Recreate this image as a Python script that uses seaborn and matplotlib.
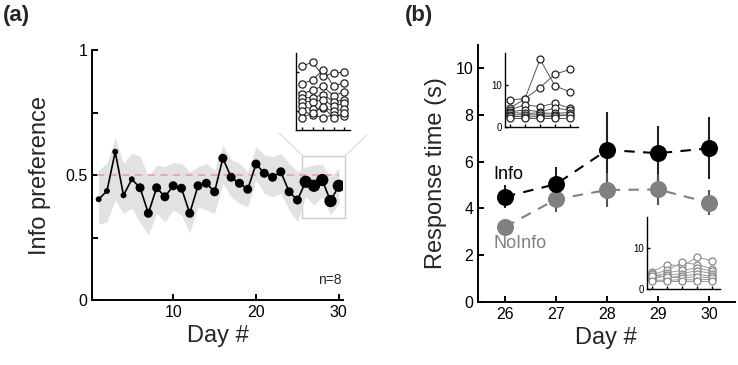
import matplotlib
matplotlib.use('Agg')
import matplotlib.pyplot as plt
import seaborn as sns
from matplotlib.lines import Line2D
from matplotlib.patches import Rectangle

# ---- panel (a): daily info preference ----
days_a = list(range(1, 31))
pref_mean = [0.403, 0.436, 0.593, 0.419, 0.483, 0.449, 0.347, 0.449, 0.413, 0.457,
             0.447, 0.347, 0.457, 0.467, 0.433, 0.567, 0.491, 0.467, 0.443, 0.544,
             0.507, 0.491, 0.513, 0.433, 0.400, 0.473, 0.457, 0.480, 0.396, 0.457]
pref_hi = [0.52, 0.547, 0.65, 0.547, 0.587, 0.576, 0.493, 0.54, 0.533, 0.549,
           0.547, 0.513, 0.533, 0.547, 0.52, 0.62, 0.563, 0.547, 0.513, 0.613,
           0.58, 0.573, 0.587, 0.547, 0.513, 0.533, 0.54, 0.544, 0.493, 0.527]
pref_lo = [0.303, 0.313, 0.40, 0.347, 0.367, 0.31, 0.26, 0.347, 0.313, 0.36,
           0.34, 0.27, 0.373, 0.36, 0.347, 0.467, 0.413, 0.387, 0.373, 0.48,
           0.427, 0.413, 0.427, 0.36, 0.313, 0.413, 0.38, 0.413, 0.34, 0.387]
n_group = ['s'] * 5 + ['m'] * 20 + ['l'] * 5  # marker size groups

# inset (a): per-animal preference, days 26-30
inset_days = [26, 27, 28, 29, 30]
pref_sub = [
    [0.83, 0.88, 0.70, 0.74, 0.75],
    [0.60, 0.65, 0.78, 0.57, 0.61],
    [0.47, 0.52, 0.57, 0.44, 0.50],
    [0.42, 0.42, 0.46, 0.37, 0.39],
    [0.37, 0.37, 0.39, 0.31, 0.35],
    [0.31, 0.27, 0.29, 0.25, 0.27],
    [0.25, 0.20, 0.16, 0.20, 0.18],
    [0.16, 0.22, 0.30, 0.16, 0.22],
]

# ---- panel (b): response times ----
days_b = [26, 27, 28, 29, 30]
info_rt = [4.50, 5.04, 6.50, 6.36, 6.57]
info_err = [0.50, 0.72, 1.64, 1.17, 1.33]
noinfo_rt = [3.21, 4.39, 4.79, 4.81, 4.24]
noinfo_err = [0.25, 0.53, 0.72, 0.67, 0.53]

info_sub = [
    [6.5, 6.8, 16.1, 9.8, 8.4],
    [4.5, 6.8, 9.4, 12.6, 13.7],
    [4.2, 5.3, 4.9, 5.7, 4.5],
    [3.7, 4.1, 3.7, 4.5, 4.1],
    [3.5, 3.3, 3.4, 3.3, 3.5],
    [2.9, 3.0, 2.9, 2.9, 2.9],
    [2.6, 2.5, 2.5, 2.6, 3.0],
    [2.1, 2.1, 2.1, 2.1, 2.1],
]
noinfo_sub = [
    [4.2, 6.0, 5.6, 7.8, 6.9],
    [3.6, 4.6, 6.5, 6.0, 5.0],
    [3.0, 4.0, 4.6, 5.2, 4.4],
    [2.5, 3.4, 3.8, 4.5, 3.8],
    [3.8, 2.8, 3.2, 3.7, 3.1],
    [2.2, 2.2, 2.3, 2.3, 2.4],
    [3.3, 3.0, 2.8, 3.0, 2.8],
    [2.0, 2.0, 2.0, 2.0, 2.0],
]

sns.set_style('ticks')
plt.rcParams['font.family'] = ['Liberation Sans', 'DejaVu Sans']
plt.rcParams['xtick.direction'] = 'in'
plt.rcParams['ytick.direction'] = 'in'
plt.rcParams['axes.linewidth'] = 1.4

fig = plt.figure(figsize=(7.38, 3.65), dpi=100)


def style_axis(ax, lw=1.4, tick_len=4):
    sns.despine(ax=ax)
    ax.spines['left'].set_linewidth(lw)
    ax.spines['bottom'].set_linewidth(lw)
    ax.spines['left'].set_color('black')
    ax.spines['bottom'].set_color('black')
    ax.tick_params(direction='in', length=tick_len, width=lw, colors='black')


# ---------------- panel (a) ----------------
ax1 = fig.add_axes([0.1247, 0.178, 0.340, 0.685])
ax1.fill_between(days_a, pref_lo, pref_hi, color='#e2e2e2', lw=0, zorder=1)
ax1.axhline(0.5, xmin=0.02, xmax=0.985, color='#f2a0a0', lw=1.3, ls=(0, (4, 3)), zorder=2)
sns.lineplot(x=days_a, y=pref_mean, color='black', lw=1.2, ax=ax1, zorder=3)
sns.scatterplot(x=days_a, y=pref_mean, size=n_group, sizes={'s': 18, 'm': 42, 'l': 78},
                color='black', edgecolor='black', linewidth=0, legend=False, ax=ax1, zorder=4)
ax1.add_patch(Rectangle((25.6, 0.33), 5.1, 0.247, fill=False, ec='#cccccc', lw=1,
                        clip_on=False, zorder=0))
ax1.set_xlim(0.2, 30.5)
ax1.set_ylim(0, 1)
ax1.set_xticks([10, 20, 30])
ax1.set_yticks([0, 0.25, 0.5, 0.75, 1])
ax1.set_yticklabels(['0', '', '0.5', '', '1'])
style_axis(ax1)
ax1.tick_params(labelsize=11.5)
ax1.set_xlabel('Day #', fontsize=17)
ax1.set_ylabel('Info preference', fontsize=17, labelpad=10)
ax1.text(30.3, 0.08, 'n=8', fontsize=10, ha='right', va='center')

# inset (a)
axi1 = fig.add_axes([0.4011, 0.6438, 0.0732, 0.2110])
axi1.patch.set_alpha(0)
axi1.axhline(0.5, color='#f2b0b0', lw=0.8, ls=(0, (3, 2)))
for sub in pref_sub:
    sns.lineplot(x=inset_days, y=sub, color='#333333', lw=0.7, ax=axi1,
                 marker='o', markersize=5.2, markerfacecolor='white',
                 markeredgecolor='#222222', markeredgewidth=0.9)
axi1.set_xlim(25.43, 30.57)
axi1.set_ylim(0, 1)
axi1.set_xticks(inset_days)
axi1.set_yticks([0.25, 0.5, 0.75])
style_axis(axi1, lw=1.0, tick_len=2)
axi1.set_xticklabels([])
axi1.set_yticklabels([])

# connecting lines from zoom box to inset
fig.add_artist(Line2D([0.4106, 0.378], [0.5726, 0.6356], color='#dddddd', lw=0.9))
fig.add_artist(Line2D([0.4675, 0.4973], [0.5726, 0.6301], color='#dddddd', lw=0.9))

# ---------------- panel (b) ----------------
ax2 = fig.add_axes([0.6477, 0.1726, 0.348, 0.705])
ax2.errorbar(days_b, info_rt, yerr=info_err, fmt='none', ecolor='#222222', elinewidth=1.5,
             capsize=0, zorder=2)
ax2.errorbar(days_b, noinfo_rt, yerr=noinfo_err, fmt='none', ecolor='#555555', elinewidth=1.5,
             capsize=0, zorder=2)
sns.lineplot(x=days_b, y=noinfo_rt, color='#808080', lw=1.5, ls=(0, (5, 4)), ax=ax2, zorder=3)
sns.lineplot(x=days_b, y=info_rt, color='black', lw=1.5, ls=(0, (5, 4)), ax=ax2, zorder=3)
sns.scatterplot(x=days_b, y=noinfo_rt, s=150, color='#808080', linewidth=0, ax=ax2, zorder=4)
sns.scatterplot(x=days_b, y=info_rt, s=150, color='black', linewidth=0, ax=ax2, zorder=5)
ax2.text(25.77, 5.45, 'Info', fontsize=13, color='black', va='center')
ax2.text(25.77, 2.52, 'NoInfo', fontsize=13, color='#808080', va='center')
ax2.set_xlim(25.47, 30.5)
ax2.set_ylim(0, 11)
ax2.set_xticks(days_b)
ax2.set_yticks([0, 2, 4, 6, 8, 10])
style_axis(ax2)
ax2.tick_params(labelsize=11.5)
ax2.set_xlabel('Day #', fontsize=17)
ax2.set_ylabel('Response time (s)', fontsize=17, labelpad=6)

# inset (b) top: Info per animal
axi2 = fig.add_axes([0.6843, 0.6512, 0.0989, 0.2036])
axi2.patch.set_alpha(0)
for sub in info_sub:
    sns.lineplot(x=days_b, y=sub, color='#555555', lw=0.7, ax=axi2,
                 marker='o', markersize=5.0, markerfacecolor='white',
                 markeredgecolor='#222222', markeredgewidth=0.9)
axi2.set_xlim(25.67, 30.53)
axi2.set_ylim(0, 17.6)
axi2.set_xticks(days_b)
axi2.set_yticks([0, 10])
style_axis(axi2, lw=1.0, tick_len=2)
axi2.set_xticklabels([])
axi2.tick_params(labelsize=7, pad=2)

# inset (b) bottom: NoInfo per animal
axi3 = fig.add_axes([0.8763, 0.2074, 0.0993, 0.198])
axi3.patch.set_alpha(0)
for sub in noinfo_sub:
    sns.lineplot(x=days_b, y=sub, color='#999999', lw=0.7, ax=axi3,
                 marker='o', markersize=5.0, markerfacecolor='white',
                 markeredgecolor='#888888', markeredgewidth=0.9)
axi3.set_xlim(25.65, 30.53)
axi3.set_ylim(0, 17.5)
axi3.set_xticks(days_b)
axi3.set_yticks([0, 10])
style_axis(axi3, lw=1.0, tick_len=2)
axi3.set_xticklabels([])
axi3.tick_params(labelsize=7, pad=2)

# panel letters
fig.text(0.004, 0.985, '(a)', fontsize=16, fontweight='bold', va='top')
fig.text(0.548, 0.985, '(b)', fontsize=16, fontweight='bold', va='top')

fig.savefig('out.png', dpi=100)
